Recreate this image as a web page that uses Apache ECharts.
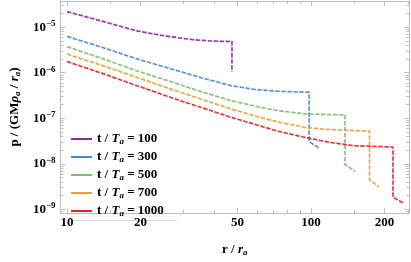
<!DOCTYPE html>
<html><head><meta charset="utf-8">
<script src="https://cdn.jsdelivr.net/npm/echarts@6/dist/echarts.min.js"></script>
<style>html,body{margin:0;padding:0;background:#fff}#c{width:411px;height:262px}</style>
</head><body><div id="c"></div>
<script>
// ---- data ----
const times = [100, 300, 500, 700, 1000];
const seriesColors = ['#8B2A9B', '#4A86E0', '#7DBE6E', '#E5A22E', '#E02424'];

const r100  = [10, 12.4, 15.5, 19.3, 25.2, 32.9, 39.3, 47.4, 47.4];
const p100  = [2.19e-5, 1.60e-5, 1.15e-5, 8.28e-6, 6.40e-6, 5.30e-6, 4.94e-6, 4.83e-6, 1.05e-6];

const r300  = [10, 14.2, 19.3, 27.6, 36.0, 47.0, 58.7, 73.3, 98.2, 98.2, 107.4];
const p300  = [6.25e-6, 3.47e-6, 2.02e-6, 1.15e-6, 7.55e-7, 5.18e-7, 4.29e-7, 3.91e-7, 3.73e-7, 3.09e-8, 2.22e-8];

const r500  = [10, 14.2, 19.3, 27.6, 36.0, 47.0, 61.3, 73.3, 95.6, 137.7, 137.7, 151.9];
const p500  = [3.73e-6, 1.98e-6, 1.10e-6, 5.97e-7, 3.73e-7, 2.44e-7, 1.76e-7, 1.46e-7, 1.24e-7, 1.18e-7, 9.54e-9, 6.87e-9];

const r700  = [10, 14.2, 19.3, 27.6, 36.0, 47.0, 61.3, 73.3, 95.6, 114.3, 173.6, 173.6, 189.7];
const p700  = [2.56e-6, 1.39e-6, 7.91e-7, 4.09e-7, 2.56e-7, 1.60e-7, 1.05e-7, 8.28e-8, 6.25e-8, 5.69e-8, 5.18e-8, 4.50e-9, 3.09e-9];

const r1000 = [10, 14.2, 19.3, 27.6, 36.0, 47.0, 61.3, 73.3, 95.6, 119.5, 149.2, 216.7, 216.7, 241.1];
const p1000 = [1.76e-6, 9.32e-7, 5.18e-7, 2.68e-7, 1.68e-7, 1.05e-7, 6.87e-8, 5.18e-8, 3.73e-8, 2.95e-8, 2.50e-8, 2.33e-8, 1.84e-9, 1.33e-9];

const xMajorTicks = [10, 20, 50, 100, 200];
const xMinorTicks = [15, 30, 40, 60, 70, 80, 90, 150, 250];
const yMajorTicks = [1e-9, 1e-8, 1e-7, 1e-6, 1e-5];
const yMinorTicks = [];
[-10, -9, -8, -7, -6, -5].forEach(e => { for (let k = 2; k <= 9; k++) yMinorTicks.push(k * Math.pow(10, e)); });

const rArr = [r100, r300, r500, r700, r1000];
const pArr = [p100, p300, p500, p700, p1000];

// ---- chart ----
const FONT = 'Liberation Serif';
const frame = '#bdbdbd';
const xMin = 9.4, xMax = 252, yMin = 8.3e-10, yMax = 3.75e-5;

function baseAxis(extra) {
  return Object.assign({
    type: 'log', logBase: 10, gridIndex: 0,
    splitLine: { show: false }, minorTick: { show: false }, minorSplitLine: { show: false }
  }, extra);
}
const sup = { fontFamily: FONT, fontWeight: 'bold', fontSize: 9, color: '#000', padding: [0, 0, 7, 0] };
const base = { fontFamily: FONT, fontWeight: 'bold', fontSize: 13, color: '#000' };
const richIt = { fontFamily: FONT, fontWeight: 'bold', fontStyle: 'italic', fontSize: 13, color: '#000', lineHeight: 14 };
const richSub = { fontFamily: FONT, fontWeight: 'bold', fontStyle: 'italic', fontSize: 9, color: '#000', lineHeight: 14, padding: [5, 0, 0, 0] };

const xAxes = [
  baseAxis({ min: xMin, max: xMax, position: 'bottom',
    axisLine: { show: true, lineStyle: { color: frame, width: 1 } },
    axisTick: { show: true, inside: true, length: 5, customValues: xMajorTicks, lineStyle: { color: frame } },
    axisLabel: { show: true, customValues: xMajorTicks, margin: 3, fontFamily: FONT, fontWeight: 'bold', fontSize: 13, color: '#000' },
    name: 'r / {i|r}{s|a}', nameLocation: 'middle', nameGap: 30,
    nameTextStyle: { fontFamily: FONT, fontWeight: 'bold', fontSize: 13, color: '#000', rich: { i: richIt, s: richSub } }
  }),
  baseAxis({ min: xMin, max: xMax, position: 'bottom', axisLine: { show: false },
    axisTick: { show: true, inside: true, length: 3, customValues: xMinorTicks, lineStyle: { color: frame } },
    axisLabel: { show: false } }),
  baseAxis({ min: xMin, max: xMax, position: 'top',
    axisLine: { show: true, lineStyle: { color: frame, width: 1 } },
    axisTick: { show: true, inside: true, length: 5, customValues: xMajorTicks, lineStyle: { color: frame } },
    axisLabel: { show: false } }),
  baseAxis({ min: xMin, max: xMax, position: 'top', axisLine: { show: false },
    axisTick: { show: true, inside: true, length: 3, customValues: xMinorTicks, lineStyle: { color: frame } },
    axisLabel: { show: false } })
];
const yAxes = [
  baseAxis({ min: yMin, max: yMax, position: 'left',
    axisLine: { show: true, lineStyle: { color: frame, width: 1 } },
    axisTick: { show: true, inside: true, length: 5, customValues: yMajorTicks, lineStyle: { color: frame } },
    axisLabel: { show: true, customValues: yMajorTicks, margin: 5,
      formatter: v => '{b|10}{s|' + '\u2212' + Math.abs(Math.round(Math.log10(v))) + '}',
      rich: { b: base, s: sup } },
    name: 'p / (GM{i|\u03c1}{s|a} / {i|r}{s|a})', nameLocation: 'middle', nameGap: 34, nameRotate: 90,
    nameTextStyle: { fontFamily: FONT, fontWeight: 'bold', fontSize: 13, color: '#000', rich: { i: richIt, s: richSub } }
  }),
  baseAxis({ min: yMin, max: yMax, position: 'left', axisLine: { show: false },
    axisTick: { show: true, inside: true, length: 3, customValues: yMinorTicks, lineStyle: { color: frame } },
    axisLabel: { show: false } }),
  baseAxis({ min: yMin, max: yMax, position: 'right',
    axisLine: { show: true, lineStyle: { color: frame, width: 1 } },
    axisTick: { show: true, inside: true, length: 5, customValues: yMajorTicks, lineStyle: { color: frame } },
    axisLabel: { show: false } }),
  baseAxis({ min: yMin, max: yMax, position: 'right', axisLine: { show: false },
    axisTick: { show: true, inside: true, length: 3, customValues: yMinorTicks, lineStyle: { color: frame } },
    axisLabel: { show: false } })
];

const legendNames = times.map(t => 't / T_a = ' + t);
const series = [];
times.forEach((t, i) => {
  const data = rArr[i].map((r, j) => [r, pArr[i][j]]);
  series.push({ name: 'under' + t, type: 'line', data, symbol: 'none', silent: true,
    color: seriesColors[i], lineStyle: { color: seriesColors[i], width: 1.4, type: [1.5, 1.5], opacity: 0.6 }, z: 2 });
  series.push({ name: legendNames[i], type: 'line', data, symbol: 'none',
    color: seriesColors[i], lineStyle: { color: seriesColors[i], width: 1.6, type: [4, 2], opacity: 0.9 }, z: 3 });
});

const chart = echarts.init(document.getElementById('c'), null, { renderer: 'canvas' });
chart.setOption({
  animation: false,
  backgroundColor: '#fff',
  grid: { left: 39, right: 2, top: 1, bottom: 33, containLabel: false },
  xAxis: xAxes,
  yAxis: yAxes,
  legend: {
    data: legendNames, orient: 'vertical', left: 71, top: 132, itemGap: 4, padding: 0,
    itemWidth: 21, itemHeight: 2, icon: 'rect',
    formatter: n => { const t = n.split('= ')[1]; return 't / {i|T}{s|a} = ' + t; },
    textStyle: { fontFamily: FONT, fontWeight: 'bold', fontSize: 13, color: '#000', lineHeight: 14,
      rich: { i: richIt, s: richSub } }
  },
  graphic: [{ type: 'polyline', shape: { points: [[72, 215], [72, 220.5], [177, 220.5]] },
    style: { stroke: '#dcdcdc', lineWidth: 1, fill: null }, silent: true }],
  series
});
</script></body></html>
